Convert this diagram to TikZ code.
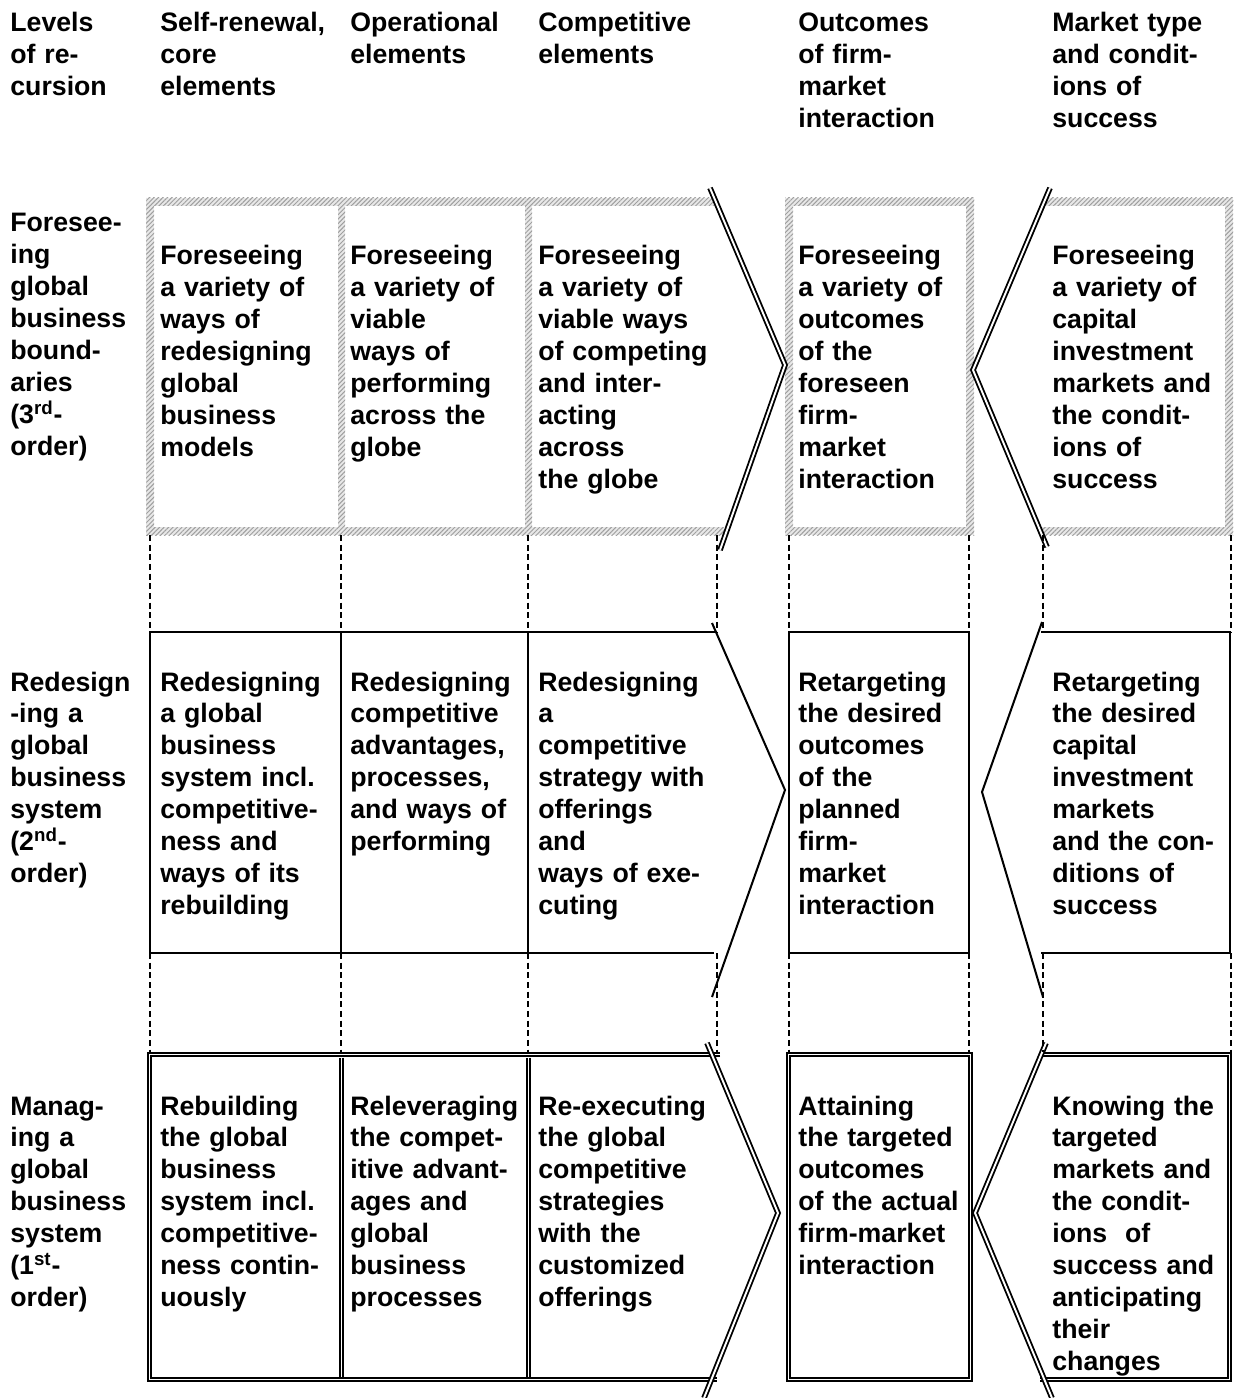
\documentclass[tikz,border=0pt]{standalone}
\usepackage{fontspec}
\setmainfont{Liberation Sans}
\usetikzlibrary{patterns.meta}

\begin{document}
\begin{tikzpicture}
[
x=0.02cm, y=-0.02cm,
cell/.style={anchor=base west,inner sep=0pt,text width=3.6cm,align=left,
             font=\fontsize{15.2}{18.2}\selectfont\bfseries},
level/.style={cell,text width=2.6cm},
hatch/.style={fill=gray!18,
              postaction={pattern={Lines[angle=45,distance=1.8pt,line width=0.55pt]},pattern color=gray!75}},
frame/.style={line width=1.15pt},
dframe/.style={double,line width=1.05pt,double distance=1.1pt},
gap/.style={dash pattern=on 3.5pt off 2pt,line width=0.7pt},
]
\useasboundingbox (0,0) rectangle (1235,1398);

%Place the headings
\node[level] (hd-lev) at (10,32) {Levels\\of re-\\cursion};
\node[cell] (hd-self) at (160,32) {Self-renewal,\\core\\elements};
\node[cell] (hd-oper) at (350,32) {Operational\\elements};
\node[cell] (hd-comp) at (538,32) {Competitive\\elements};
\node[cell] (hd-outc) at (798,32) {Outcomes\\of firm-\\market\\interaction};
\node[cell] (hd-mark) at (1052,32) {Market type\\and condit-\\ions of\\success};

%Third order
\fill[hatch] (146,198) rectangle (714,206);
\fill[hatch] (146,527) rectangle (724,535);
\fill[hatch] (146,198) rectangle (154,535);
\fill[hatch] (338,198) rectangle (345,535);
\fill[hatch] (525,198) rectangle (532,535);
\fill[hatch] (785,198) rectangle (974,206);
\fill[hatch] (785,527) rectangle (974,535);
\fill[hatch] (785,198) rectangle (793,535);
\fill[hatch] (966,198) rectangle (974,535);
\fill[hatch] (1046,198) rectangle (1233,206);
\fill[hatch] (1042,527) rectangle (1233,535);
\fill[hatch] (1225,198) rectangle (1233,535);
\draw[dframe] (710,188) -- (785,365) -- (720,550);
\draw[dframe] (1050,188) -- (973,370) -- (1047,547);

\node[level] (r3-lev) at (10,232) {Foresee-\\ing\\global\\business\\bound-\\aries\\(3\textsuperscript{rd}-\\order)};
\node[cell] (r3-self) at (160,265) {Foreseeing\\a variety of\\ways of\\redesigning\\global\\business\\models};
\node[cell] (r3-oper) at (350,265) {Foreseeing\\a variety of\\viable\\ways of\\performing\\across the\\globe};
\node[cell] (r3-comp) at (538,265) {Foreseeing\\a variety of\\viable ways\\of competing\\and inter-\\acting\\across\\the globe};
\node[cell] (r3-outc) at (798,265) {Foreseeing\\a variety of\\outcomes\\of the\\foreseen\\firm-\\market\\interaction};
\node[cell] (r3-mark) at (1052,265) {Foreseeing\\a variety of\\capital\\investment\\markets and\\the condit-\\ions of\\success};

%Second order
\draw[frame] (717,632) -- (150,632) -- (150,953) -- (714,953);
\draw[frame] (341,632) -- (341,953);
\draw[frame] (528,632) -- (528,953);
\draw[frame] (789,632) rectangle (969,953);
\draw[frame] (1041,632) -- (1230,632) -- (1230,953) -- (1041,953);
\draw[frame] (712,623) -- (785,790) -- (712,997);
\draw[frame] (1042,622) -- (982,792) -- (1043,997);

\node[level] (r2-lev) at (10,691) {Redesign\\-ing a\\global\\business\\system\\(2\textsuperscript{nd}-\\order)};
\node[cell] (r2-self) at (160,691) {Redesigning\\a global\\business\\system incl.\\competitive-\\ness and\\ways of its\\rebuilding};
\node[cell] (r2-oper) at (350,691) {Redesigning\\competitive\\advantages,\\processes,\\and ways of\\performing};
\node[cell] (r2-comp) at (538,691) {Redesigning\\a\\competitive\\strategy with\\offerings\\and\\ways of exe-\\cuting};
\node[cell] (r2-outc) at (798,691) {Retargeting\\the desired\\outcomes\\of the\\planned\\firm-\\market\\interaction};
\node[cell] (r2-mark) at (1052,691) {Retargeting\\the desired\\capital\\investment\\markets\\and the con-\\ditions of\\success};

%First order
\draw[dframe] (720,1054.5) -- (149.5,1054.5) -- (149.5,1379.5) -- (717,1379.5);
\draw[dframe] (341.5,1057.5) -- (341.5,1376.5);
\draw[dframe] (528.5,1057.5) -- (528.5,1376.5);
\draw[dframe] (788.5,1054.5) rectangle (970.5,1379.5);
\draw[dframe] (1040,1054.5) -- (1229.5,1054.5) -- (1229.5,1379.5) -- (1040,1379.5);
\draw[dframe] (707,1043) -- (778,1213) -- (704,1398);
\draw[dframe] (1046,1043) -- (975,1213) -- (1052,1398);

\node[level] (r1-lev) at (10,1115) {Manag-\\ing a\\global\\business\\system\\(1\textsuperscript{st}-\\order)};
\node[cell] (r1-self) at (160,1115) {Rebuilding\\the global\\business\\system incl.\\competitive-\\ness contin-\\uously};
\node[cell] (r1-oper) at (350,1115) {Releveraging\\the compet-\\itive advant-\\ages and\\global\\business\\processes};
\node[cell] (r1-comp) at (538,1115) {Re-executing\\the global\\competitive\\strategies\\with the\\customized\\offerings};
\node[cell] (r1-outc) at (798,1115) {Attaining\\the targeted\\outcomes\\of the actual\\firm-market\\interaction};
\node[cell] (r1-mark) at (1052,1115) {Knowing the\\targeted\\markets and\\the condit-\\ions~ of\\success and\\anticipating\\their\\changes};

%Dashed links between the levels
\foreach \x in {150,341,528,717,789,969,1043,1231}
{
  \draw[gap] (\x,535) -- (\x,632);
  \draw[gap] (\x,953) -- (\x,1052);
}
\end{tikzpicture}
\end{document}
